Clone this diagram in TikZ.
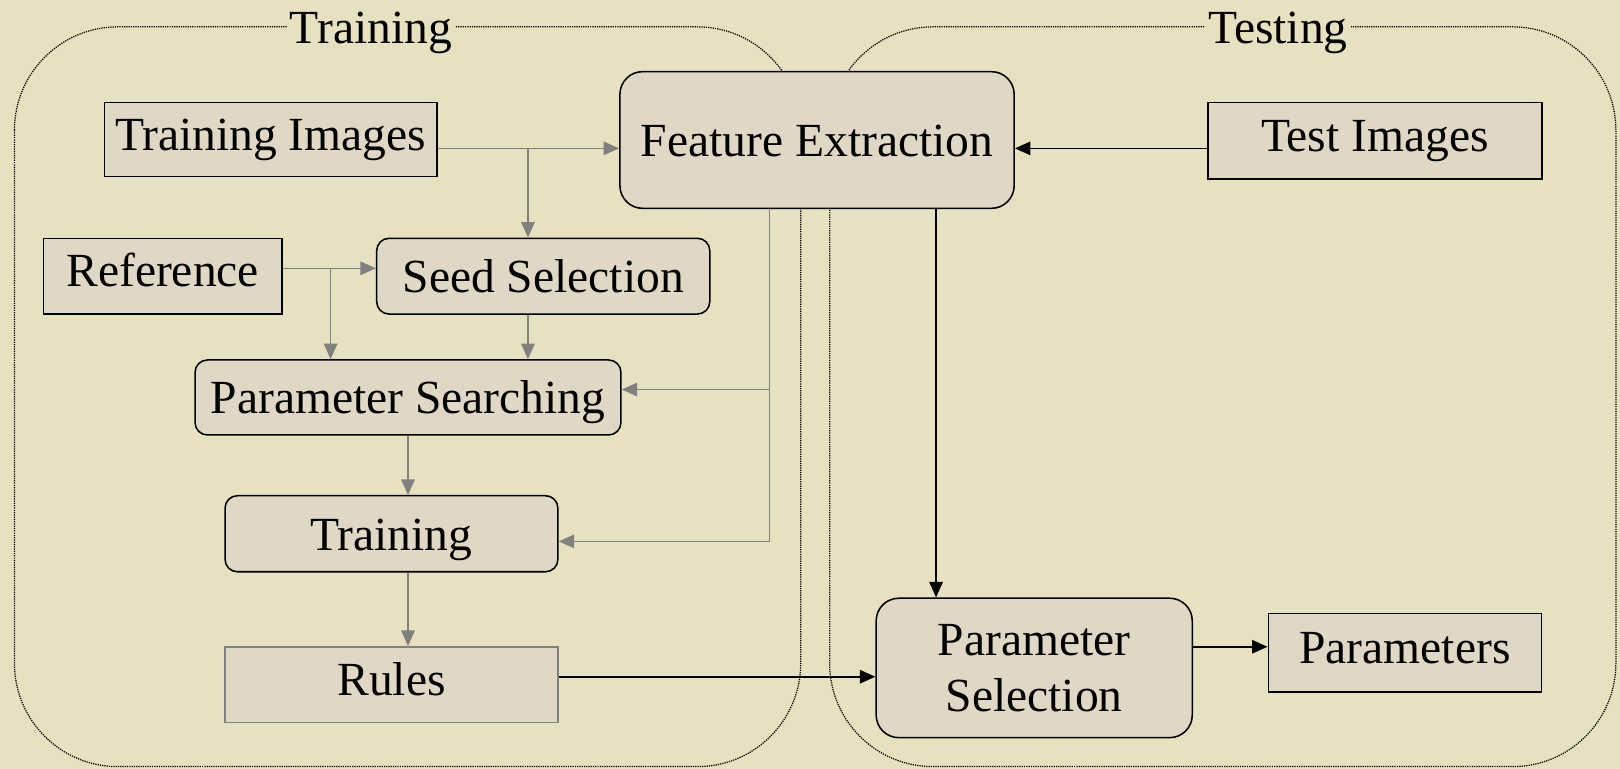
\documentclass[tikz,border=0pt]{standalone}
\usepackage{fontspec}
\setmainfont{Liberation Serif}
\usetikzlibrary{arrows.meta}

\definecolor{paper}{RGB}{231,225,191}
\definecolor{boxfill}{RGB}{224,216,197}
\definecolor{flowgray}{RGB}{128,128,128}

\tikzset{
  every node/.style={font=\fontsize{46}{54}\selectfont},
  basebox/.style={draw=black, line width=1.5pt, fill=boxfill, inner sep=0pt, align=center},
  plainbox/.style={basebox, text height=32pt, text depth=11.5pt},
  roundbox/.style={basebox, rounded corners=12pt, text height=32pt, text depth=0pt},
  bigbox/.style={basebox, rounded corners=22pt},
  group/.style={draw=black, densely dotted, line width=1.2pt, rounded corners=100pt},
  grouptitle/.style={fill=paper, inner xsep=3pt, inner ysep=0pt, anchor=base},
  grayflow/.style={draw=flowgray, line width=1.5pt, -{Triangle[length=15pt,width=13pt]}},
  grayline/.style={draw=flowgray, line width=1.5pt},
  blackflow/.style={draw=black, line width=1.5pt, -{Triangle[length=15pt,width=13pt]}}
}

\begin{document}
\begin{tikzpicture}[x=1pt, y=-1pt]
  % canvas
  \useasboundingbox (0,0) rectangle (1568,744);
  \fill[paper] (0,0) rectangle (1568,744);

  % the two phases
  \draw[group] (14,26) rectangle (775,742);
  \draw[group] (803,26) rectangle (1564,742);
  \node[grouptitle] (ttrain) at (359,42) {Training};
  \node[grouptitle] (ttest) at (1237,42) {Testing};

  % blocks
  \node[plainbox, minimum width=322pt, minimum height=72pt] (timg) at (262,135) {Training Images};
  \node[bigbox, text height=32pt, text depth=0pt, minimum width=381.6pt, minimum height=132.3pt] (fext) at (790.8,135.5) {Feature Extraction};
  \node[plainbox, minimum width=323.5pt, minimum height=74pt] (testimg) at (1330.75,136) {Test Images};
  \node[plainbox, minimum width=231pt, minimum height=73.3pt] (ref) at (157.5,267.3) {Reference};
  \node[roundbox, minimum width=322.4pt, minimum height=73.3pt] (seed) at (525.8,267.3) {Seed Selection};
  \node[roundbox, minimum width=412.2pt, minimum height=72.6pt] (psearch) at (394.9,384.7) {Parameter Searching};
  \node[roundbox, minimum width=322.2pt, minimum height=73.6pt] (train) at (378.9,516.6) {Training};
  \node[plainbox, draw=flowgray, minimum width=322.2pt, minimum height=73.5pt] (rules) at (378.9,662.75) {Rules};
  \node[bigbox, minimum width=306pt, minimum height=135pt] (psel) at (1001,646.5) {Parameter\\Selection};
  \node[plainbox, minimum width=264.4pt, minimum height=76.4pt] (params) at (1359.8,631.8) {Parameters};

  % junction points of the connectors
  \coordinate (j1) at (511,143.6);
  \coordinate (j2) at (320,259.7);
  \coordinate (j3) at (745,377);
  \coordinate (j4) at (745,524);
  \coordinate (j6) at (906,0);
  \coordinate (j7) at (0,655);
  \coordinate (j8) at (0,626);

  % training flow
  \draw[grayflow] (timg.east |- j1) -- (fext.west |- j1);
  \draw[grayflow] (j1) -- (seed.north -| j1);
  \draw[grayflow] (ref.east |- j2) -- (seed.west |- j2);
  \draw[grayflow] (j2) -- (psearch.north -| j2);
  \draw[grayflow] (seed.south -| j1) -- (psearch.north -| j1);
  \draw[grayline] (fext.south -| j3) -- (j4);
  \draw[grayflow] (j4) -- (train.east |- j4);
  \draw[grayflow] (j3) -- (psearch.east |- j3);
  \draw[grayflow] (psearch.south) -- (train.north -| psearch.south);
  \draw[grayflow] (train.south -| psearch.south) -- (rules.north -| psearch.south);

  % testing flow
  \draw[blackflow] (testimg.west |- j1) -- (fext.east |- j1);
  \draw[blackflow] (fext.south -| j6) -- (psel.north -| j6);
  \draw[blackflow] (rules.east |- j7) -- (psel.west |- j7);
  \draw[blackflow] (psel.east |- j8) -- (params.west |- j8);
\end{tikzpicture}
\end{document}
